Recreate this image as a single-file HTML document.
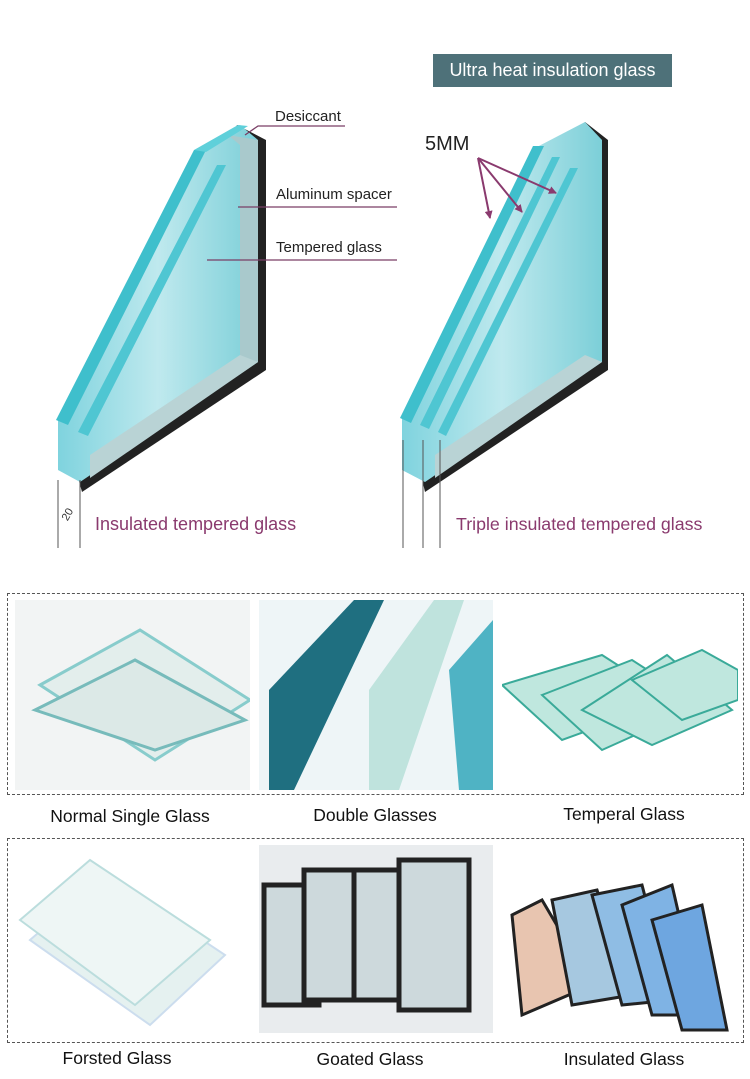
<!DOCTYPE html>
<html><head><meta charset="utf-8"><style>
body{margin:0;width:750px;height:1079px;background:#fff;position:relative;overflow:hidden;font-family:"Liberation Sans",sans-serif}
.t{position:absolute;white-space:nowrap}
.box{position:absolute;border:1px dashed #555}
.ph{position:absolute;overflow:hidden}
.lb{position:absolute;font-size:17.5px;color:#111;text-align:center;width:240px}
</style></head><body>
<svg width="750" height="560" style="position:absolute;left:0;top:0">
<defs>
<linearGradient id="g1" x1="0" x2="1" y1="0" y2="0"><stop offset="0" stop-color="#7fd3de"/><stop offset=".5" stop-color="#bfe9ee"/><stop offset="1" stop-color="#7ccfd8"/></linearGradient>
<marker id="ah" markerWidth="8" markerHeight="8" refX="7" refY="4" orient="auto" markerUnits="userSpaceOnUse"><path d="M0,0 L8,4 L0,8 z" fill="#8a3a6e"/></marker>
</defs>
<polygon points="237,125 266,140 266,370 82,492 76,470" fill="#222"/>
<polygon points="58,420 195,152 240,125 258,140 258,362 80,482 58,470" fill="url(#g1)"/>
<polygon points="228,135 258,140 258,362 240,370 240,145" fill="#a9c9cc"/>
<polygon points="90,455 240,355 258,362 90,478" fill="#b9d3d5"/>
<polygon points="56,420 194,150 206,150 68,425" fill="#3fbfcc"/>
<polygon points="78,432 217,165 226,165 88,436" fill="#4fc6d2"/>
<polygon points="194,150 238,125 248,126 206,152" fill="#5fd0da"/>
<line x1="58" y1="480" x2="58" y2="548" stroke="#555"/><line x1="80" y1="480" x2="80" y2="548" stroke="#555"/>
<text x="62" y="520" font-size="11" fill="#333" transform="rotate(-60 66 516)">20</text>
<polyline points="245,135 258,126 345,126" fill="none" stroke="#7a3f66" stroke-width="1.3"/>
<line x1="238" y1="207" x2="397" y2="207" stroke="#7a3f66" stroke-width="1.3"/>
<line x1="207" y1="260" x2="397" y2="260" stroke="#7a3f66" stroke-width="1.3"/>
<polygon points="585,122 608,140 608,370 425,492 420,470" fill="#222"/>
<polygon points="402,418 535,148 585,122 602,140 602,362 425,482 402,470" fill="url(#g1)"/>
<polygon points="400,418 533,146 544,146 411,423" fill="#3fbfcc"/>
<polygon points="420,425 552,157 560,157 429,429" fill="#4fc6d2"/>
<polygon points="438,432 570,168 578,168 446,436" fill="#4fc6d2"/>
<polygon points="435,455 585,355 602,362 435,478" fill="#b9d3d5"/>
<line x1="403" y1="440" x2="403" y2="548" stroke="#555"/><line x1="423" y1="440" x2="423" y2="548" stroke="#555"/><line x1="440" y1="440" x2="440" y2="548" stroke="#555"/>
<line x1="478" y1="158" x2="490" y2="218" stroke="#8a3a6e" stroke-width="2" marker-end="url(#ah)"/>
<line x1="478" y1="158" x2="522" y2="212" stroke="#8a3a6e" stroke-width="2" marker-end="url(#ah)"/>
<line x1="478" y1="158" x2="556" y2="193" stroke="#8a3a6e" stroke-width="2" marker-end="url(#ah)"/>
</svg>
<div class="t" style="left:433px;top:54px;width:239px;height:33px;background:#4e7179;color:#fff;font-size:18px;line-height:33px;text-align:center">Ultra heat insulation glass</div>
<div class="t" style="left:275px;top:108px;font-size:15px;color:#222">Desiccant</div>
<div class="t" style="left:276px;top:186px;font-size:15px;color:#222">Aluminum spacer</div>
<div class="t" style="left:276px;top:239px;font-size:15px;color:#222">Tempered glass</div>
<div class="t" style="left:425px;top:133px;font-size:20px;color:#222">5MM</div>
<div class="t" style="left:95px;top:514px;font-size:18px;color:#8a3a6e">Insulated tempered glass</div>
<div class="t" style="left:456px;top:514px;font-size:17.8px;color:#8a3a6e">Triple insulated tempered glass</div>

<div class="box" style="left:7px;top:593px;width:735px;height:200px"></div>
<div class="ph" style="left:15px;top:600px;width:235px;height:190px;background:#f2f4f4"><svg width="235" height="190"><polygon points="25,85 125,30 235,100 140,160" fill="#e3eeec" stroke="#8cc" stroke-width="3"/><polygon points="20,110 120,60 230,120 140,150" fill="#dce9e7" stroke="#7bb" stroke-width="3"/></svg></div>
<div class="ph" style="left:259px;top:600px;width:234px;height:190px;background:#eef5f7"><svg width="234" height="190"><polygon points="10,90 95,0 125,0 35,190 10,190" fill="#1f6f80"/><polygon points="110,90 175,0 205,0 140,190 110,190" fill="#bfe3dd"/><polygon points="190,70 234,20 234,190 200,190" fill="#4fb3c4"/></svg></div>
<div class="ph" style="left:502px;top:600px;width:236px;height:190px;background:#fff"><svg width="236" height="190"><g fill="#bfe7de" stroke="#3aaa99" stroke-width="2"><polygon points="0,85 100,55 170,100 60,140"/><polygon points="40,95 130,60 200,105 100,150"/><polygon points="80,110 165,55 230,110 150,145"/><polygon points="130,80 200,50 236,70 236,100 180,120"/></g></svg></div>
<div class="lb" style="left:10px;top:806px">Normal Single Glass</div>
<div class="lb" style="left:255px;top:805px">Double Glasses</div>
<div class="lb" style="left:504px;top:804px">Temperal Glass</div>

<div class="box" style="left:7px;top:838px;width:735px;height:203px"></div>
<div class="ph" style="left:15px;top:845px;width:235px;height:188px;background:#fff"><svg width="235" height="188"><polygon points="15,95 90,30 210,110 135,180" fill="#e5f1f0" stroke="#cde" stroke-width="2"/><polygon points="5,75 75,15 195,95 120,160" fill="#eef6f5" stroke="#bdd" stroke-width="2"/></svg></div>
<div class="ph" style="left:259px;top:845px;width:234px;height:188px;background:#e9ecee"><svg width="234" height="188"><g fill="#cdd9dc" stroke="#222" stroke-width="5"><rect x="5" y="40" width="55" height="120"/><rect x="45" y="25" width="55" height="130"/><rect x="95" y="25" width="55" height="130"/><rect x="140" y="15" width="70" height="150"/></g></svg></div>
<div class="ph" style="left:502px;top:845px;width:236px;height:188px;background:#fff"><svg width="236" height="188"><g stroke="#222" stroke-width="3"><polygon points="10,70 40,55 90,140 20,170" fill="#e8c5b0"/><polygon points="50,55 95,45 130,150 70,160" fill="#a6c8e0"/><polygon points="90,50 140,40 170,155 120,160" fill="#8fbde4"/><polygon points="120,60 170,40 200,170 150,170" fill="#7fb3e4"/><polygon points="150,75 200,60 225,185 180,185" fill="#6ea6e0"/></g></svg></div>
<div class="lb" style="left:-3px;top:1048px">Forsted Glass</div>
<div class="lb" style="left:250px;top:1049px">Goated Glass</div>
<div class="lb" style="left:504px;top:1049px">Insulated Glass</div>
</body></html>
